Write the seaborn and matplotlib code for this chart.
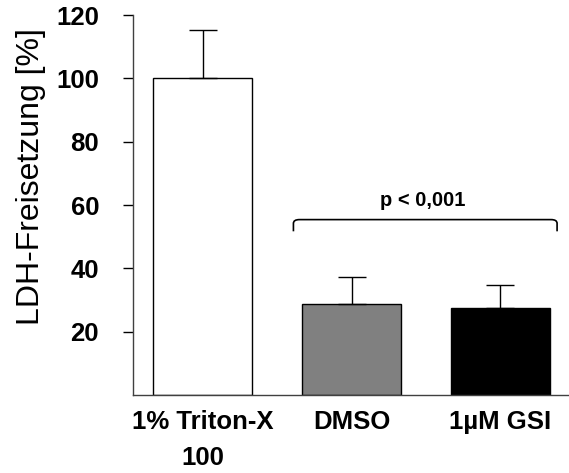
import seaborn as sns
import pandas as pd
import matplotlib.pyplot as plt
from matplotlib.path import Path
from matplotlib.patches import PathPatch

labels = ["1% Triton-X\n100", "DMSO", "1µM GSI"]
means = [100, 28.7, 27.4]
sd = [15.3, 8.5, 7.2]
colors = ["white", "#808080", "black"]

data = pd.DataFrame({"group": labels, "ldh": means})

sns.set_style("ticks")
plt.rcParams["font.family"] = ["Liberation Sans", "DejaVu Sans"]
plt.rcParams.update({"text.color": "black", "axes.labelcolor": "black",
                     "xtick.color": "black", "ytick.color": "black"})

fig = plt.figure(figsize=(5.69, 4.73), dpi=100)
ax = fig.add_axes([0.234, 0.165, 0.766, 0.803])

sns.barplot(data=data, x="group", y="ldh", hue="group", palette=colors,
            width=0.67, edgecolor="black", linewidth=1, legend=False, ax=ax)
# only the upper half of the error bars
ax.errorbar(range(len(labels)), means, yerr=[[0] * 3, sd], fmt="none",
            ecolor="black", elinewidth=1, capsize=10, capthick=1, zorder=1)

# bracket over DMSO / GSI
x0, x1, yb, yt, r = 0.61, 2.38, 51.7, 55.4, 0.04
verts = [(x0, yb), (x0, yt - 1.2), (x0, yt), (x0 + r, yt), (x1 - r, yt),
         (x1, yt), (x1, yt - 1.2), (x1, yb)]
codes = [Path.MOVETO, Path.LINETO, Path.CURVE3, Path.CURVE3, Path.LINETO,
         Path.CURVE3, Path.CURVE3, Path.LINETO]
ax.add_patch(PathPatch(Path(verts, codes), fill=False, lw=1.2, color="black"))
ax.text(1.48, 59.6, "p < 0,001", ha="center", va="baseline",
        fontsize=14.5, fontweight="bold")

ax.set_xlim(-0.466, 2.46)
ax.set_ylim(0, 120)
ax.set_yticks([20, 40, 60, 80, 100, 120])
ax.set_xlabel("")
ax.set_ylabel("LDH-Freisetzung [%]", fontsize=23)
ax.yaxis.set_label_coords(-0.20, 0.575)
ax.tick_params(axis="y", length=7.5, width=1, labelsize=18.5, pad=17)
ax.tick_params(axis="x", length=0, labelsize=18.5, pad=11)
for t in ax.get_xticklabels() + ax.get_yticklabels():
    t.set_fontweight("bold")
for t in ax.get_xticklabels():
    t.set_linespacing(1.6)
sns.despine(ax=ax)
for s in ["left", "bottom"]:
    ax.spines[s].set_color("#404040")
    ax.spines[s].set_linewidth(1)

fig.savefig("out.png", dpi=100)
